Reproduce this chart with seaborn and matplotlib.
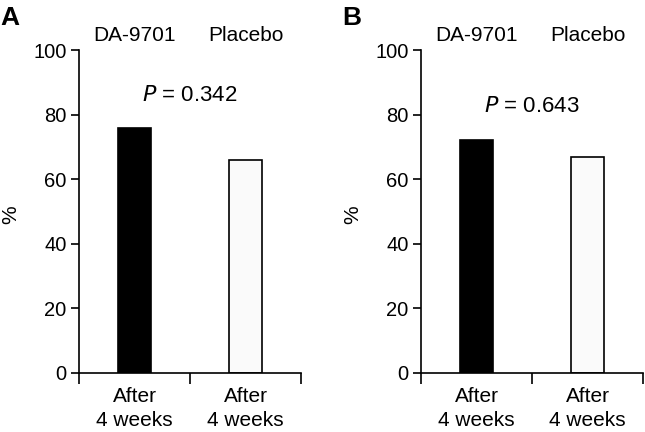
import seaborn as sns
import pandas as pd
import matplotlib.pyplot as plt

groups = ["DA-9701", "Placebo"]
tick_labels = ["After\n4 weeks", "After\n4 weeks"]
values_a = [76, 66]
values_b = [72, 67]
p_values = ["0.342", "0.643"]
panel_letters = ["A", "B"]

sns.set_style("white")
plt.rcParams['font.family'] = ['Liberation Sans', 'DejaVu Sans']
plt.rcParams['text.color'] = 'black'
plt.rcParams['xtick.color'] = 'black'
plt.rcParams['ytick.color'] = 'black'
plt.rcParams['axes.labelcolor'] = 'black'
plt.rcParams['xtick.bottom'] = True
plt.rcParams['ytick.left'] = True

fig = plt.figure(figsize=(6.45, 4.32), dpi=100)
ax_a = fig.add_axes([79 / 645, 1 - 373 / 432, 222 / 645, 323 / 432])
ax_b = fig.add_axes([421 / 645, 1 - 373 / 432, 222 / 645, 323 / 432])

colors = ["#000000", "#fafafa"]

def draw_panel(ax, values, pval, letter, p_y):
    df = pd.DataFrame({"group": groups, "value": values})
    sns.barplot(data=df, x="group", y="value", hue="group", palette=colors,
                width=0.3, edgecolor="black", linewidth=1.2, legend=False, ax=ax)
    ax.set_xlim(-0.5, 1.5)
    ax.set_ylim(0, 100)
    ax.set_yticks([0, 20, 40, 60, 80, 100])
    ax.set_xticks([0, 1])
    ax.set_xticklabels(tick_labels, fontsize=15, linespacing=1.35)
    ax.set_xticks([-0.5, 0.5, 1.5], minor=True)
    ax.tick_params(axis="x", which="major", length=0, pad=10)
    ax.tick_params(axis="x", which="minor", length=8, width=1.2, direction="out", color="black")
    ax.tick_params(axis="y", length=6, width=1.2, direction="out", color="black",
                   labelsize=14.5, pad=3)
    ax.set_xlabel("")
    ax.set_ylabel("%", fontsize=15)
    ax.yaxis.set_label_coords(-0.265, 0.49)
    for side in ["top", "right"]:
        ax.spines[side].set_visible(False)
    for side in ["left", "bottom"]:
        ax.spines[side].set_color("black")
        ax.spines[side].set_linewidth(1.2)
    for i, g in enumerate(groups):
        ax.text(i, 1.015, g, transform=ax.get_xaxis_transform(), ha="center", va="bottom",
                fontsize=15)
    ax.text(0.5, p_y, r"$P$ = " + pval, ha="center", va="center", fontsize=16)
    ax.text(-0.355, 1.10, letter, transform=ax.transAxes, ha="left", va="center",
            fontsize=19, fontweight="bold")

draw_panel(ax_a, values_a, p_values[0], panel_letters[0], 86)
draw_panel(ax_b, values_b, p_values[1], panel_letters[1], 82.5)

fig.savefig("out.png", dpi=100)
